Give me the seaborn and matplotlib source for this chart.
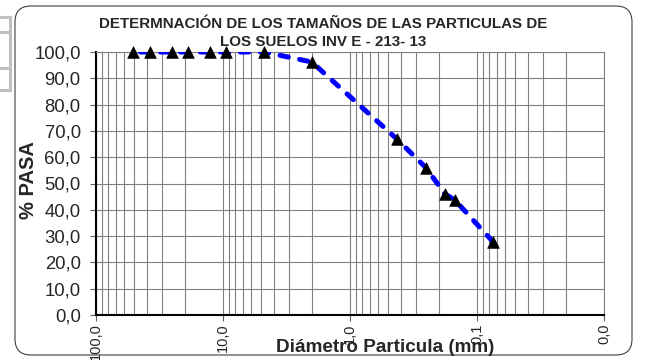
import numpy as np
import pandas as pd
import matplotlib.pyplot as plt
import seaborn as sns
from matplotlib.patches import FancyBboxPatch, Rectangle
from matplotlib.lines import Line2D
from matplotlib.transforms import IdentityTransform

# sieve openings (mm) and percent passing
diametro = [50.8, 37.5, 25.4, 19.0, 12.7, 9.51, 4.75, 2.0, 0.425, 0.25, 0.18, 0.15, 0.075]
pasa = [100.0, 100.0, 100.0, 100.0, 100.0, 100.0, 100.0, 96.2, 66.8, 55.8, 46.1, 43.8, 27.9]

x_ticks = [100, 10, 1, 0.1, 0.01]
x_labels = ["100,0", "10,0", "1,0", "0,1", "0,0"]
y_ticks = list(range(0, 101, 10))
y_labels = [f"{v},0" for v in y_ticks]

sns.set_style("white")
plt.rcParams['font.family'] = ['Liberation Sans', 'DejaVu Sans']

W, H = 651, 360
fig = plt.figure(figsize=(W / 100, H / 100), dpi=100)
fig.patch.set_facecolor('white')

# chart border with rounded corners (pixel coords)
border = FancyBboxPatch((15, 5), 617, 349, boxstyle="round,pad=0,rounding_size=16",
                        transform=IdentityTransform(), facecolor='none',
                        edgecolor='#404040', linewidth=0.8)
fig.add_artist(border)

# clipped grey table at the left edge
box = Rectangle((-5, H - 90), 15, 73, transform=IdentityTransform(),
                facecolor='none', edgecolor='#c0c0c0', linewidth=2.2)
fig.add_artist(box)
for yy in (32, 68):
    fig.add_artist(Line2D([0, 10], [H - yy, H - yy], transform=IdentityTransform(),
                          color='#c0c0c0', linewidth=2.2))

ax = fig.add_axes([96 / W, (H - 315) / H, 508 / W, 263 / H])

df = pd.DataFrame({'diametro': diametro, 'pasa': pasa})
sns.lineplot(data=df, x='diametro', y='pasa', ax=ax, color='#0000ff', linewidth=3.6,
             dashes=False, zorder=3)
line = ax.lines[-1]
line.set_dashes((1.7, 2.3))
line.set_dash_capstyle('round')
sns.scatterplot(data=df, x='diametro', y='pasa', ax=ax, marker='^', color='black',
                s=70, edgecolor='black', linewidth=0.5, zorder=4, clip_on=False)

ax.set_xscale('log')
ax.set_xlim(100, 0.01)
ax.set_ylim(0, 100)

ax.set_xticks(x_ticks)
ax.set_xticklabels(x_labels, rotation=90, fontsize=10.5, va='top')
ax.xaxis.set_minor_locator(plt.matplotlib.ticker.LogLocator(base=10, subs=np.arange(2, 10)))
ax.xaxis.set_minor_formatter(plt.NullFormatter())
ax.set_yticks(y_ticks)
ax.set_yticklabels(y_labels, fontsize=13.3)

ax.grid(True, which='both', axis='x', color='#808080', linewidth=0.8)
ax.grid(True, which='major', axis='y', color='#808080', linewidth=0.8)
ax.tick_params(axis='x', which='major', direction='out', length=4, width=0.8,
               color='#606060', pad=2, bottom=True)
ax.tick_params(axis='y', which='major', direction='out', length=4, width=0.8,
               color='#606060', pad=7, left=True)
ax.tick_params(axis='x', which='minor', length=0)

for side in ('left', 'bottom'):
    ax.spines[side].set_color('black')
    ax.spines[side].set_linewidth(1.5)
for side in ('top', 'right'):
    ax.spines[side].set_color('#808080')
    ax.spines[side].set_linewidth(0.8)

ax.set_xlabel('')
ax.set_ylabel('')

fig.text(323 / W, 1 - 33 / H,
         "DETERMNACIÓN DE LOS TAMAÑOS DE LAS PARTICULAS DE\nLOS SUELOS INV E - 213- 13",
         ha='center', va='center', fontsize=10.9, fontweight='bold', linespacing=1.35)
fig.text(29 / W, 1 - 180 / H, "% PASA", rotation=90, ha='center', va='center',
         fontsize=14.5, fontweight='bold')
fig.text(385 / W, 1 - 347 / H, "Diámetro Particula (mm)", ha='center', va='center',
         fontsize=13.6, fontweight='bold')

fig.savefig('out.png', dpi=100, facecolor='white')
